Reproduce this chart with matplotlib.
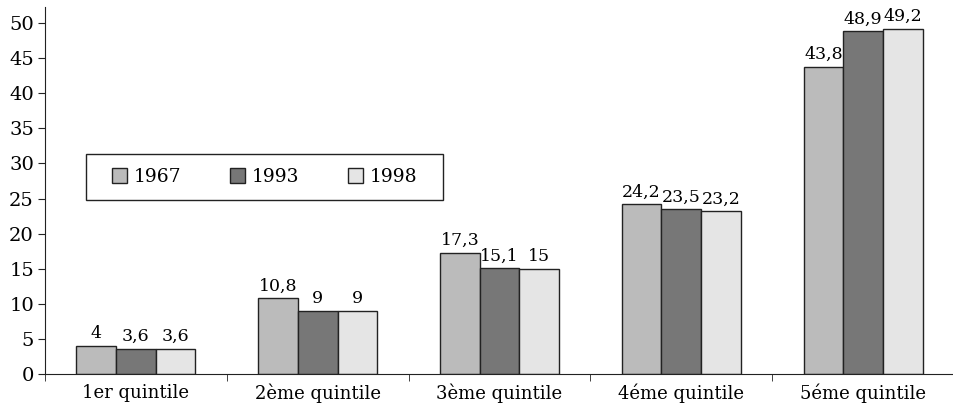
import matplotlib
matplotlib.use("Agg")
import matplotlib.pyplot as plt
from matplotlib.patches import Rectangle
import numpy as np

categories = ["1er quintile", "2ème quintile", "3ème quintile", "4éme quintile", "5éme quintile"]
years = ["1967", "1993", "1998"]
v1967 = [4, 10.8, 17.3, 24.2, 43.8]
v1993 = [3.6, 9, 15.1, 23.5, 48.9]
v1998 = [3.6, 9, 15, 23.2, 49.2]
labels1967 = ["4", "10,8", "17,3", "24,2", "43,8"]
labels1993 = ["3,6", "9", "15,1", "23,5", "48,9"]
labels1998 = ["3,6", "9", "15", "23,2", "49,2"]
yticks = [0, 5, 10, 15, 20, 25, 30, 35, 40, 45, 50]

colors = ["#bbbbbb", "#777777", "#e5e5e5"]
plt.rcParams["font.family"] = ["DejaVu Serif"]

W, H = 954, 405
fig = plt.figure(figsize=(W / 100, H / 100), dpi=100)
ax = fig.add_axes([45 / W, (H - 374) / H, 1 - 45 / W, (374 - 7) / H])

x = np.arange(len(categories))
bw = 0.218
series = [v1967, v1993, v1998]
lbls = [labels1967, labels1993, labels1998]
for i, (vals, lab) in enumerate(zip(series, lbls)):
    pos = x + (i - 1) * bw
    ax.bar(pos, vals, width=bw, color=colors[i], edgecolor="#222222",
           linewidth=1.0, label=years[i])
    for p, v, t in zip(pos, vals, lab):
        ax.text(p, v + 0.5, t, ha="center", va="bottom", fontsize=12.5)

ax.set_xlim(-0.5, (W - 45) / 183.75 - 0.5)
ax.set_ylim(0, 52.3)
ax.set_yticks(yticks)
ax.set_yticklabels([str(t) for t in yticks], fontsize=14)
ax.set_xticks(x)
ax.set_xticklabels(categories, fontsize=13)
ax.set_xticks(np.arange(len(categories) + 1) - 0.5, minor=True)
ax.tick_params(axis="x", which="major", length=0, pad=7)
ax.tick_params(axis="x", which="minor", length=5, direction="out", color="#222222")
ax.tick_params(axis="y", length=5, direction="out", color="#222222", pad=3)
for s in ["top", "right"]:
    ax.spines[s].set_visible(False)
ax.spines["left"].set_color("#222222")
ax.spines["bottom"].set_color("#222222")

# legend frame drawn in figure pixels
fx0, fx1, fy0, fy1 = 86, 443, 154, 200
ax.add_patch(Rectangle((fx0 / W, (H - fy1) / H), (fx1 - fx0) / W, (fy1 - fy0) / H,
                       transform=fig.transFigure, facecolor="white",
                       edgecolor="#222222", linewidth=1.0, zorder=5, clip_on=False))
leg = ax.legend(loc="center left", bbox_to_anchor=(112 / W, (H - 177) / H),
                bbox_transform=fig.transFigure,
                ncol=3, frameon=False, fontsize=13.5, handlelength=0.8, handleheight=0.8,
                handletextpad=0.35, columnspacing=2.6, borderpad=0, borderaxespad=0)
leg.set_zorder(6)

fig.savefig("out.png", dpi=100)
